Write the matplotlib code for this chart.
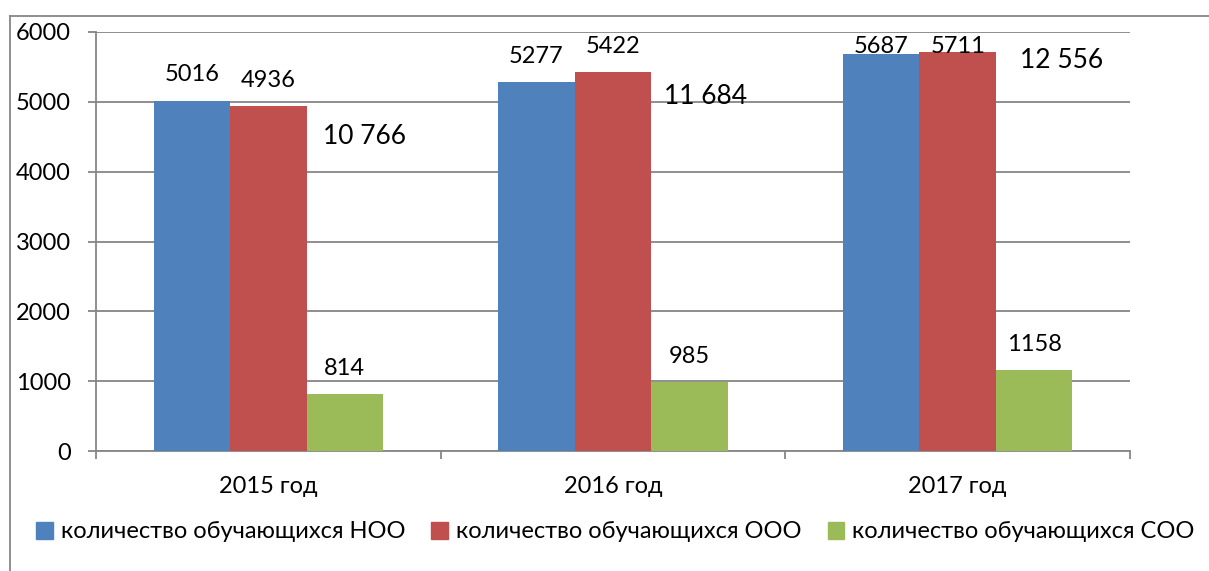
import matplotlib

matplotlib.use("Agg")
import matplotlib.pyplot as plt
import numpy as np
from matplotlib.lines import Line2D
from matplotlib.patches import Patch

plt.rcParams["font.family"] = ["Lato", "DejaVu Sans"]

# данные
years = ["2015 год", "2016 год", "2017 год"]
noo = [5016, 5277, 5687]
ooo = [4936, 5422, 5711]
soo = [814, 985, 1158]
totals = ["10 766", "11 684", "12 556"]
total_xy = [(0.28, 4510), (0.27, 5070), (0.30, 5585)]  # ручные подписи справа от красных столбцов

series = [
    ("количество обучающихся НОО", noo, "#4F81BD"),
    ("количество обучающихся ООО", ooo, "#C0504D"),
    ("количество обучающихся СОО", soo, "#9BBB59"),
]

FS = 17
GRID = "#868686"

fig = plt.figure(figsize=(12.09, 5.71), dpi=100)
ax = fig.add_axes([96 / 1209, 1 - 451 / 571, (1130 - 96) / 1209, (451 - 32) / 571])

x = np.arange(len(years))
w = 0.222
for i, (name, vals, col) in enumerate(series):
    pos = x + (i - 1) * w
    ax.bar(pos, vals, width=w, color=col, zorder=3)
    for px, v in zip(pos, vals):
        ax.text(px, min(v + 370, 5790), str(v), ha="center", va="center", fontsize=FS, zorder=4)

for xi, (dx, ty), t in zip(x, total_xy, totals):
    ax.text(xi + dx, ty, t, ha="center", va="center", fontsize=FS + 2)

ax.set_xlim(-0.5, 2.5)
ax.set_ylim(0, 6000)
ax.set_yticks(range(0, 6001, 1000))
ax.yaxis.grid(True, color=GRID, lw=1.3, zorder=0)
ax.set_xticks(x)
ax.set_xticklabels(years, fontsize=FS)
ax.set_xticks([-0.5, 0.5, 1.5, 2.5], minor=True)
ax.tick_params(axis="x", which="major", length=0, pad=18)
ax.tick_params(axis="x", which="minor", length=6, color=GRID, width=1.3)
ax.tick_params(axis="y", length=6, color=GRID, width=1.3, pad=12, labelsize=FS)
for s in ["top", "right"]:
    ax.spines[s].set_visible(False)
for s in ["left", "bottom"]:
    ax.spines[s].set_color(GRID)
    ax.spines[s].set_linewidth(1.3)

handles = [Patch(color=c, label=n) for n, _, c in series]
fig.legend(handles=handles, loc="center left", bbox_to_anchor=(36 / 1209, 1 - 532 / 571),
           ncol=3, frameon=False, fontsize=FS, handlelength=0.7, handleheight=0.7,
           handletextpad=0.35, columnspacing=1.1, borderaxespad=0, borderpad=0)

# рамка диаграммы (обрезана справа и снизу)
fig.add_artist(Line2D([10 / 1209, 10 / 1209], [0, 1 - 16 / 571], color=GRID, lw=1.3))
fig.add_artist(Line2D([10 / 1209, 1], [1 - 16 / 571, 1 - 16 / 571], color=GRID, lw=1.3))

fig.savefig("out.png", dpi=100)
